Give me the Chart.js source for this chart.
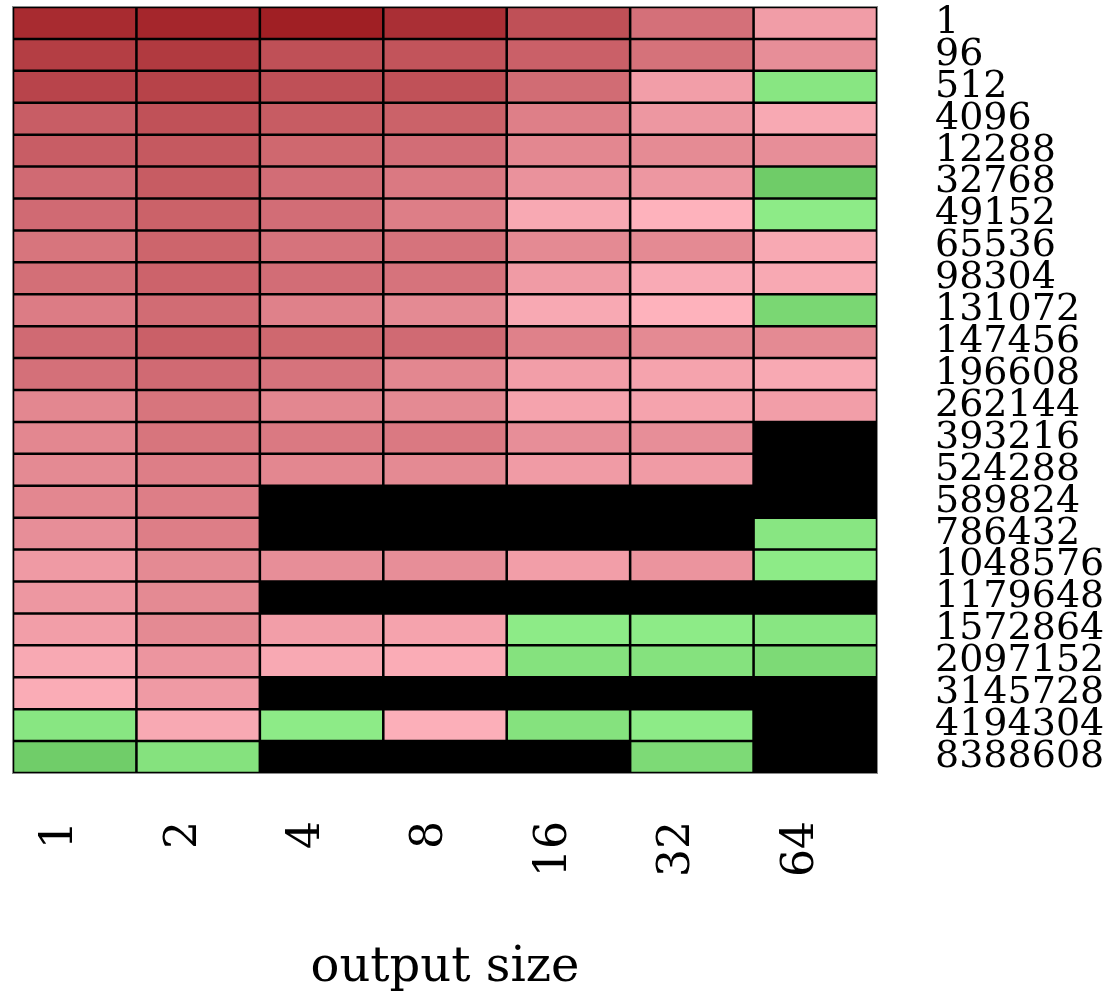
<!DOCTYPE html>
<html>
<head>
<meta charset="utf-8">
<script src="https://cdn.jsdelivr.net/npm/chart.js@4/dist/chart.umd.min.js"></script>
<style>
  html, body { margin: 0; padding: 0; background: #ffffff; }
  #wrap { width: 1110px; height: 997px; position: relative; }
</style>
</head>
<body>
<div id="wrap"><canvas id="c" width="1110" height="997"></canvas></div>
<script>
// Row labels (input size), top to bottom
const rowLabels = ['1','96','512','4096','12288','32768','49152','65536','98304','131072','147456','196608','262144','393216','524288','589824','786432','1048576','1179648','1572864','2097152','3145728','4194304','8388608'];
// Column labels (output size)
const colLabels = ['1','2','4','8','16','32','64'];
const axisTitle = 'output size';

// Cell values per output-size column (negative = red/slower, positive = green/faster, null = missing)
const out1  = [-0.92,-0.79,-0.75,-0.58,-0.58,-0.49,-0.49,-0.42,-0.46,-0.37,-0.49,-0.45,-0.30,-0.30,-0.28,-0.30,-0.25,-0.17,-0.19,-0.14,-0.07,-0.05,0.20,0.97];
const out2  = [-0.95,-0.82,-0.76,-0.66,-0.61,-0.59,-0.55,-0.53,-0.54,-0.48,-0.56,-0.49,-0.42,-0.42,-0.36,-0.36,-0.36,-0.28,-0.28,-0.28,-0.20,-0.17,-0.07,0.30];
const out4  = [-1.00,-0.67,-0.67,-0.59,-0.51,-0.47,-0.47,-0.43,-0.47,-0.34,-0.51,-0.43,-0.30,-0.39,-0.30,null,null,-0.25,null,-0.14,-0.07,null,0.03,null];
const out8  = [-0.89,-0.64,-0.66,-0.55,-0.47,-0.39,-0.36,-0.43,-0.43,-0.28,-0.49,-0.30,-0.28,-0.39,-0.28,null,null,-0.25,null,-0.11,-0.05,null,-0.03,null];
const out16 = [-0.67,-0.56,-0.48,-0.35,-0.30,-0.22,-0.07,-0.28,-0.16,-0.07,-0.34,-0.14,-0.11,-0.25,-0.16,null,null,-0.14,null,0.03,0.30,null,0.30,null];
const out32 = [-0.45,-0.44,-0.14,-0.19,-0.27,-0.19,-0.01,-0.28,-0.06,-0.01,-0.28,-0.11,-0.11,-0.25,-0.16,null,null,-0.21,null,0.03,0.30,null,0.03,0.55];
const out64 = [-0.15,-0.25,0.20,-0.07,-0.25,1.00,0.02,-0.07,-0.07,0.65,-0.28,-0.07,-0.14,null,null,null,0.20,0.02,null,0.20,0.55,null,null,null];

const columns = [out1, out2, out4, out8, out16, out32, out64];

// colour scale
const DARK_RED = [160, 31, 36];
const LIGHT_PINK = [255, 179, 190];
const LIGHT_GREEN = [142, 236, 136];
const DARK_GREEN = [111, 204, 104];
function lerp(a, b, t) {
  return 'rgb(' + a.map((v, i) => Math.round(v + (b[i] - v) * t)).join(',') + ')';
}
function cellColor(v) {
  if (v === null || v === undefined) return 'rgba(0,0,0,0)';
  if (v < 0) return lerp(DARK_RED, LIGHT_PINK, Math.max(0, 1 + v));
  return lerp(LIGHT_GREEN, DARK_GREEN, Math.min(1, v));
}

const datasets = columns.map((vals, c) => ({
  label: colLabels[c],
  data: vals.map(v => (v === null ? null : [c, c + 1])),
  backgroundColor: vals.map(cellColor),
  borderColor: '#000000',
  borderWidth: 1.6,
  borderSkipped: false,
  barPercentage: 1.0,
  categoryPercentage: 1.0,
  grouped: false
}));

const areaBackground = {
  id: 'areaBackground',
  beforeDatasetsDraw(chart) {
    const { ctx, chartArea: a } = chart;
    ctx.save();
    ctx.fillStyle = '#000000';
    ctx.fillRect(a.left, a.top, a.right - a.left, a.bottom - a.top);
    ctx.restore();
  },
  afterDatasetsDraw(chart) {
    const { ctx, chartArea: a } = chart;
    ctx.save();
    ctx.strokeStyle = '#8a8a8a';
    ctx.lineWidth = 1;
    ctx.strokeRect(a.left - 0.5, a.top - 0.5, a.right - a.left + 1, a.bottom - a.top + 1);
    ctx.restore();
  }
};

const FONT = "'DejaVu Serif', 'Liberation Serif', serif";

new Chart(document.getElementById('c'), {
  type: 'bar',
  data: { labels: rowLabels, datasets },
  plugins: [areaBackground],
  options: {
    responsive: false,
    animation: false,
    indexAxis: 'y',
    layout: { padding: { left: 13, top: 7, right: 0, bottom: 0 } },
    plugins: { legend: { display: false }, tooltip: { enabled: false } },
    scales: {
      y: {
        type: 'category',
        position: 'right',
        grid: { display: false, drawTicks: false },
        border: { display: false },
        ticks: {
          autoSkip: false,
          padding: 58,
          color: '#000000',
          font: { family: FONT, size: 38 }
        },
        afterFit(scale) {
          scale.width = 233;
          scale.paddingTop = 0;
          scale.paddingBottom = 0;
        }
      },
      x: {
        type: 'linear',
        min: 0,
        max: colLabels.length,
        position: 'bottom',
        grid: { display: false, drawTicks: false },
        border: { display: false },
        afterBuildTicks(scale) {
          scale.ticks = colLabels.map((_, i) => ({ value: i + 0.5 }));
        },
        ticks: {
          autoSkip: false,
          minRotation: 90,
          maxRotation: 90,
          padding: 48,
          labelOffset: -14,
          color: '#000000',
          font: { family: FONT, size: 44 },
          callback: (value) => colLabels[Math.floor(value)]
        },
        title: {
          display: true,
          text: axisTitle,
          color: '#000000',
          font: { family: FONT, size: 48, lineHeight: 1 },
          padding: { top: 0, bottom: 4 }
        },
        afterFit(scale) {
          scale.height = 224;
          scale.paddingLeft = 0;
          scale.paddingRight = 0;
        }
      }
    }
  }
});
</script>
</body>
</html>
